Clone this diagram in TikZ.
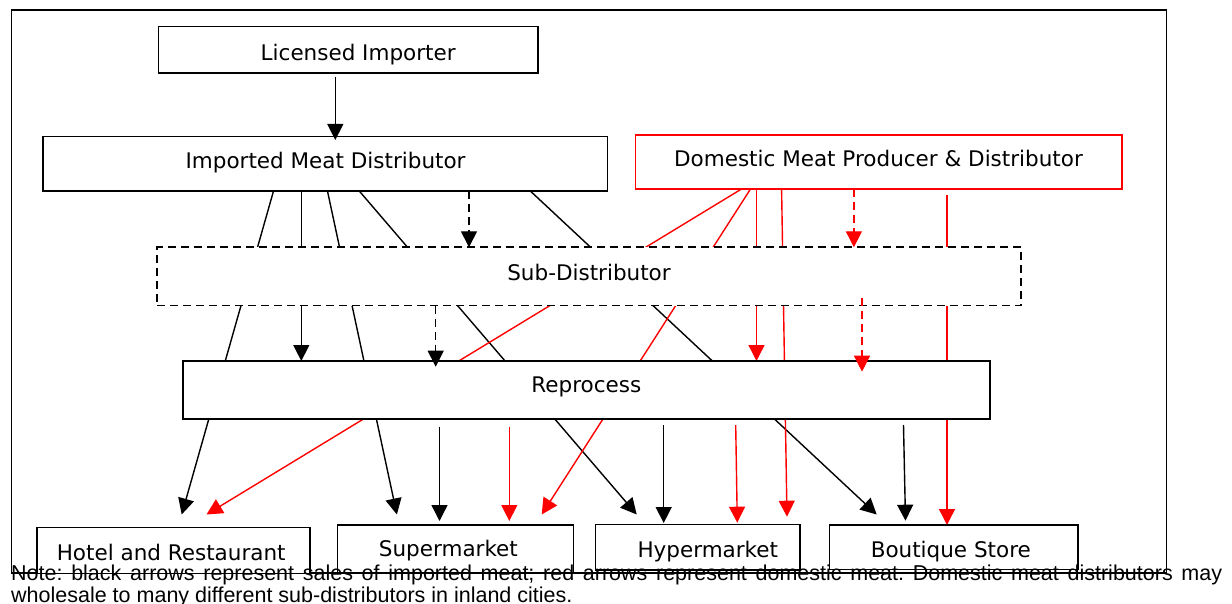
\documentclass[tikz,border=0pt]{standalone}
\usepackage{fontspec}
\setmainfont{DejaVu Sans}
\newfontfamily\notefont{Liberation Sans}
\usetikzlibrary{arrows.meta}
\definecolor{myred}{RGB}{255,0,0}
\frenchspacing
\tikzset{
  box/.style={draw=black, line width=1.6pt, fill=white, inner sep=0pt, outer sep=0pt},
  redbox/.style={box, draw=myred},
  dashbox/.style={box, dash pattern=on 8pt off 5pt},
  boxtext/.style={anchor=base, inner sep=0pt, font=\fontsize{21.5}{24}\selectfont},
  conn/.style={line width=1.4pt, black},
  rconn/.style={line width=1.4pt, myred},
  tip/.style={-{Triangle[width=16pt,length=16pt]}},
  dsh/.style={dash pattern=on 8pt off 5pt},
}
\begin{document}
\begin{tikzpicture}[x=1pt, y=-1pt]
\useasboundingbox (0,0) rectangle (1232,604);
% frame
\node[draw=black, line width=1.6pt, inner sep=0pt, outer sep=0pt, minimum width=1155pt, minimum height=563pt] (frame) at (589,291.5) {};

% endpoints of connectors
\coordinate (i1) at (273.6,190.7);
\coordinate (i2) at (301.3,190.7);
\coordinate (i3) at (327.4,190.7);
\coordinate (i4) at (359,190.7);
\coordinate (i5) at (469,190.7);
\coordinate (i6) at (530,190.7);
\coordinate (d1) at (741,189.3);
\coordinate (d2) at (750.3,189.3);
\coordinate (d3) at (756.5,189.3);
\coordinate (d4) at (781.6,189.3);
\coordinate (d5) at (853.9,189.3);
\coordinate (d6) at (947,195);
\coordinate (s1) at (469,247.3);
\coordinate (s2) at (853.9,247.3);
\coordinate (s3) at (435.7,305.5);
\coordinate (s4) at (862,298.3);
\coordinate (r1) at (301.3,361);
\coordinate (r2) at (756.5,361);
\coordinate (r3) at (435.7,366.7);
\coordinate (r4) at (862,371.7);
\coordinate (b1) at (439.5,426.7);
\coordinate (b2) at (509.3,426.7);
\coordinate (b3) at (663.7,425);
\coordinate (b4) at (735.7,425);
\coordinate (b5) at (903.5,425);
\coordinate (h1) at (181.7,514.5);
\coordinate (h2) at (206.5,514.5);
\coordinate (m1) at (396.9,514.5);
\coordinate (m2) at (439.5,521);
\coordinate (m3) at (509.3,521);
\coordinate (m4) at (541.7,514.5);
\coordinate (y1) at (636.7,514.5);
\coordinate (y2) at (663.7,523);
\coordinate (y3) at (737.3,522.7);
\coordinate (y4) at (787,516.7);
\coordinate (q1) at (876.7,514.5);
\coordinate (q2) at (905.5,520.7);
\coordinate (q3) at (947,525);
\coordinate (l1) at (335.3,76.7);
\coordinate (l2) at (335.3,140);

% long connectors, partly hidden under the boxes
\draw[conn, tip] (i1) -- (h1);
\draw[conn, tip] (i3) -- (m1);
\draw[conn, tip] (i4) -- (y1);
\draw[conn, tip] (i6) -- (q1);
\draw[conn, tip] (i2) -- (r1);
\draw[rconn, tip] (d1) -- (h2);
\draw[rconn, tip] (d2) -- (m4);
\draw[rconn, tip] (d3) -- (r2);
\draw[rconn, tip] (d4) -- (y4);
\draw[rconn, tip] (d6) -- (q3);

% boxes
\node[box, minimum width=379.2pt, minimum height=46.6pt] (li) at (348.2,50) {};
\node[box, minimum width=564.8pt, minimum height=54.1pt] (imd) at (325.1,163.75) {};
\node[redbox, minimum width=486.6pt, minimum height=54.3pt] (dmpd) at (878.7,162.15) {};
\node[dashbox, minimum width=864.2pt, minimum height=58.2pt] (sd) at (589.1,276.4) {};
\node[box, minimum width=806.8pt, minimum height=58pt] (rp) at (586.4,390) {};
\node[box, minimum width=273.1pt, minimum height=46pt] (hotel) at (173.25,550.3) {};
\node[box, minimum width=235.9pt, minimum height=48pt] (super) at (455.45,549) {};
\node[box, minimum width=204.4pt, minimum height=45.5pt] (hyper) at (697.8,547.25) {};
\node[box, minimum width=248.4pt, minimum height=44.3pt] (bout) at (953.5,547.15) {};

% box texts
\node[boxtext] (tli) at (358.2,60.7) {Licensed Importer};
\node[boxtext] (timd) at (325.6,168.3) {Imported Meat Distributor};
\node[boxtext] (tdmpd) at (878.5,166.7) {Domestic Meat Producer \& Distributor};
\node[boxtext] (tsd) at (589,280) {Sub-Distributor};
\node[boxtext] (trp) at (586.3,392.3) {Reprocess};
\node[boxtext] (thotel) at (171.2,560.7) {Hotel and Restaurant};
\node[boxtext] (tsuper) at (448.4,556.7) {Supermarket};
\node[boxtext] (thyper) at (707.8,557.3) {Hypermarket};
\node[boxtext] (tbout) at (950.8,557.3) {Boutique Store};

% short connectors
\draw[conn, tip] (l1) -- (l2);
\draw[conn, dsh, tip] (i5) -- (s1);
\draw[rconn, dsh, tip] (d5) -- (s2);
\draw[conn, dsh, tip] (s3) -- (r3);
\draw[rconn, dsh, tip] (s4) -- (r4);
\draw[conn, tip] (b1) -- (m2);
\draw[rconn, tip] (b2) -- (m3);
\draw[conn, tip] (b3) -- (y2);
\draw[rconn, tip] (b4) -- (y3);
\draw[conn, tip] (b5) -- (q2);

% note
\node[anchor=base west, inner sep=0pt, font=\notefont\fontsize{21.5}{24}\selectfont] (note1) at (11,580)
  {\makebox[1211pt][s]{Note: black arrows represent sales of imported meat; red arrows represent domestic meat. Domestic meat distributors may}};
\node[anchor=base west, inner sep=0pt, font=\notefont\fontsize{21.5}{24}\selectfont] (note2) at (11,602)
  {wholesale to many different sub-distributors in inland cities.};
\end{tikzpicture}
\end{document}
